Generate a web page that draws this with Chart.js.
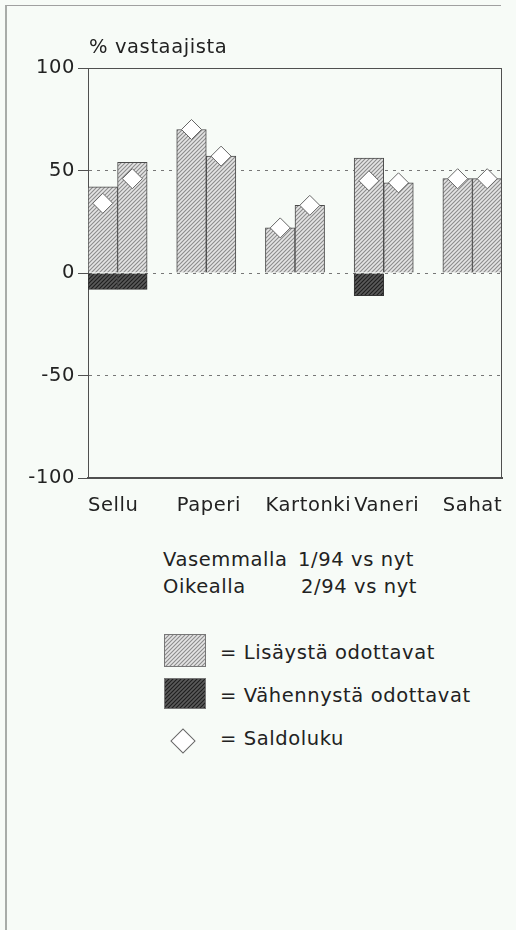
<!DOCTYPE html>
<html lang="fi">
<head>
  <meta charset="UTF-8" />
  <title>Tuotannon odotukset</title>
  <script src="https://cdn.jsdelivr.net/npm/chart.js@4"></script>
  <style>
    html, body {
      margin: 0;
      padding: 0;
    }
    body {
      width: 516px;
      height: 930px;
      position: relative;
      overflow: hidden;
      background: #f7fbf7;
      font-family: 'DejaVu Sans', sans-serif;
      color: #222;
    }
    #kehys {
      position: absolute;
      left: 5px;
      top: 5px;
      width: 494px;
      height: 940px;
      border-left: 2px solid #a8aca8;
      border-top: 1px solid #a0a0a0;
    }
    #kaavio {
      position: absolute;
      left: 0;
      top: 0;
    }
    .teksti {
      position: absolute;
      font-size: 19.5px;
      line-height: 27px;
      letter-spacing: 0.6px;
      white-space: nowrap;
    }
    .ruutu {
      position: absolute;
      left: 164px;
      width: 40px;
      border: 1px solid #777;
    }
    #vinoneliö {
      position: absolute;
      left: 174px;
      top: 732px;
      width: 16px;
      height: 16px;
      background: #fff;
      border: 1px solid #666;
      transform: rotate(45deg);
    }
  </style>
</head>
<body>
  <div id="kehys"></div>
  <canvas id="kaavio" width="516" height="530"></canvas>

  <div class="teksti" style="left:163px; top:546px">Vasemmalla</div>
  <div class="teksti" style="left:298px; top:546px">1/94 vs nyt</div>
  <div class="teksti" style="left:163px; top:573px">Oikealla</div>
  <div class="teksti" style="left:301px; top:573px">2/94 vs nyt</div>

  <div class="ruutu" id="ruutuLisays" style="top:634px; height:31px"></div>
  <div class="teksti" id="seliteLisays" style="left:220px; top:639px"></div>
  <div class="ruutu" id="ruutuVahennys" style="top:678px; height:29px"></div>
  <div class="teksti" id="seliteVahennys" style="left:220px; top:682px"></div>
  <div id="vinoneliö"></div>
  <div class="teksti" id="seliteSaldo" style="left:220px; top:725px"></div>

  <script>
    // Toimialat ja vastausosuudet (%), vasen pylväs 1/94, oikea 2/94
    const toimialat = ['Sellu', 'Paperi', 'Kartonki', 'Vaneri', 'Sahat'];
    const lisaysVas = [42, 70, 22, 56, 46];
    const lisaysOik = [54, 57, 33, 44, 46];
    const vahennysVas = [-8, 0, 0, -11, 0];
    const vahennysOik = [-8, 0, 0, 0, 0];
    const saldoVas = [34, 70, 22, 45, 46];
    const saldoOik = [46, 57, 33, 44, 46];
    const yAsteikko = [-100, -50, 0, 50, 100];
    const selitteet = ['Lisäystä odottavat', 'Vähennystä odottavat', 'Saldoluku'];

    const fontti = 'DejaVu Sans, sans-serif';

    // vinoviivoitettu täyttö
    function viivoitus(pohja, viiva) {
      const c = document.createElement('canvas');
      c.width = c.height = 4;
      const g = c.getContext('2d');
      g.fillStyle = pohja;
      g.fillRect(0, 0, 4, 4);
      g.strokeStyle = viiva;
      g.lineWidth = 1.1;
      g.beginPath();
      g.moveTo(0, 4); g.lineTo(4, 0);
      g.moveTo(-1, 1); g.lineTo(1, -1);
      g.moveTo(3, 5); g.lineTo(5, 3);
      g.stroke();
      return c;
    }
    const vaaleaRuutu = viivoitus('#e4e4e4', '#8c8c8c');
    const tummaRuutu = viivoitus('#5a5a5a', '#1e1e1e');

    const ctx = document.getElementById('kaavio').getContext('2d');
    const vaalea = ctx.createPattern(vaaleaRuutu, 'repeat');
    const tumma = ctx.createPattern(tummaRuutu, 'repeat');

    // kukin toimiala vie kolme pylvään levyistä paikkaa: vasen, oikea, väli
    function parit(vas, oik) {
      const out = [];
      toimialat.forEach((t, i) => {
        out.push({ x: 3 * i, y: vas[i] === 0 ? null : vas[i] });
        out.push({ x: 3 * i + 1, y: oik[i] === 0 ? null : oik[i] });
      });
      return out;
    }

    const kehysPlugin = {
      id: 'kehys',
      beforeDraw(chart) {
        chart.ctx.letterSpacing = '0.6px';
      },
      afterDraw(chart) {
        const a = chart.chartArea;
        const c = chart.ctx;
        c.save();
        c.strokeStyle = '#505050';
        c.lineWidth = 1;
        c.beginPath();
        c.moveTo(a.left + 0.5, a.top + 0.5);
        c.lineTo(a.right - 0.5, a.top + 0.5);
        c.lineTo(a.right - 0.5, a.bottom);
        c.stroke();
        c.lineWidth = 2;
        c.beginPath();
        c.moveTo(a.left, a.bottom);
        c.lineTo(a.right, a.bottom);
        c.stroke();
        // akselin otsikko
        c.font = '19.5px ' + fontti;
        c.fillStyle = '#222';
        c.textAlign = 'left';
        c.textBaseline = 'alphabetic';
        c.fillText('% vastaajista', a.left + 1, a.top - 15);
        c.restore();
      }
    };

    new Chart(ctx, {
      type: 'bar',
      data: {
        datasets: [
          {
            type: 'line',
            label: selitteet[2],
            data: parit(saldoVas, saldoOik),
            showLine: false,
            stack: 'saldo',
            order: -1,
            pointStyle: 'rectRot',
            pointRadius: 10,
            pointBackgroundColor: '#ffffff',
            pointBorderColor: '#666',
            pointBorderWidth: 1
          },
          {
            label: selitteet[0],
            data: parit(lisaysVas, lisaysOik),
            stack: 'a',
            backgroundColor: vaalea,
            borderColor: '#4a4a4a',
            borderWidth: 1
          },
          {
            label: selitteet[1],
            data: parit(vahennysVas, vahennysOik),
            stack: 'a',
            backgroundColor: tumma,
            borderColor: '#333',
            borderWidth: 1
          }
        ]
      },
      options: {
        responsive: false,
        animation: false,
        barPercentage: 1,
        categoryPercentage: 1,
        layout: { padding: { top: 68, right: 14, left: 0, bottom: 0 } },
        plugins: {
          legend: { display: false },
          tooltip: { enabled: false }
        },
        scales: {
          x: {
            type: 'linear',
            stacked: true,
            offset: false,
            min: -0.5,
            max: 13.5,
            afterBuildTicks(scale) {
              scale.ticks = toimialat.map((t, i) => ({ value: 3 * i - 0.5 }));
            },
            afterFit(scale) {
              scale.height = 52;
            },
            grid: { display: false, offset: false },
            border: { display: true, color: '#505050', width: 2 },
            ticks: {
              align: 'start',
              autoSkip: false,
              maxRotation: 0,
              padding: 8,
              color: '#222',
              font: { family: fontti, size: 19.5 },
              callback: (v, i) => toimialat[i]
            }
          },
          y: {
            stacked: true,
            min: -100,
            max: 100,
            afterBuildTicks(scale) {
              scale.ticks = yAsteikko.map(v => ({ value: v }));
            },
            afterFit(scale) {
              scale.width = 88;
            },
            grid: {
              color: '#777',
              tickColor: '#505050',
              tickLength: 10,
              lineWidth: 1
            },
            border: {
              display: true,
              color: '#505050',
              width: 1,
              dash: c => (c.tick && Math.abs(c.tick.value) === 100 ? [] : [3, 5])
            },
            ticks: {
              padding: 3,
              color: '#222',
              font: { family: fontti, size: 19.5 }
            }
          }
        }
      },
      plugins: [kehysPlugin]
    });

    // selitteet kaavion alle
    document.getElementById('ruutuLisays').style.background = 'url(' + vaaleaRuutu.toDataURL() + ')';
    document.getElementById('ruutuVahennys').style.background = 'url(' + tummaRuutu.toDataURL() + ')';
    document.getElementById('seliteLisays').textContent = '= ' + selitteet[0];
    document.getElementById('seliteVahennys').textContent = '= ' + selitteet[1];
    document.getElementById('seliteSaldo').textContent = '= ' + selitteet[2];
  </script>
</body>
</html>
